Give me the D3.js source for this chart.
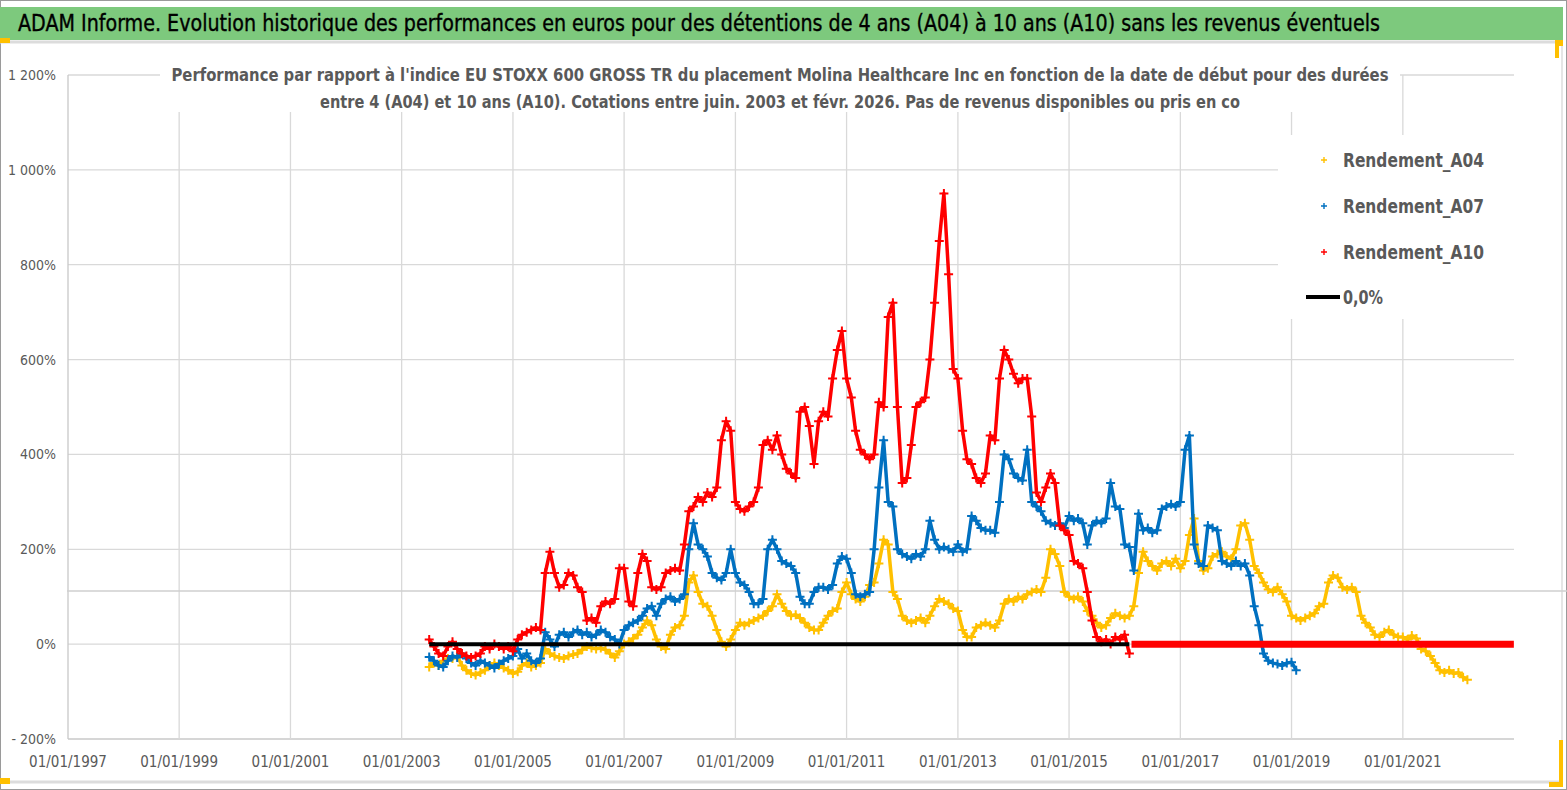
<!DOCTYPE html>
<html>
<head>
<meta charset="utf-8">
<script src="https://cdn.jsdelivr.net/npm/d3@7"></script>
<style>
  body { margin: 0; background: #fff; }
  svg { display: block; }
  text { font-family: "Liberation Sans Narrow", "DejaVu Sans Condensed", "Liberation Sans", sans-serif; }
</style>
</head>
<body>
<div id="chart"></div>
<script>
// Monthly readings (in %) of the relative performance, first value = start month
const A04_START= '2003-07-01';
const A04_VALUES= [
  -48,-40,-45,-35,-30,-30,
  -25,-45,-55,-62,-65,-60,-55,-45,-40,-45,-50,-55,
  -62,-58,-45,-40,-48,-45,-40,-10,-20,-25,-28,-30,
  -25,-22,-20,-12,-5,-8,-10,-8,-12,-20,-28,-15,
  0,5,12,20,35,50,40,10,-5,-10,20,35,
  40,60,130,145,110,85,80,60,30,5,-5,10,
  30,45,40,45,50,55,60,70,80,105,85,70,
  60,62,55,45,35,30,30,45,60,70,75,110,
  130,105,95,90,100,125,130,170,220,210,110,95,
  60,50,45,50,55,45,60,80,95,90,85,75,
  70,30,15,15,35,40,45,40,35,50,85,95,
  90,100,95,105,110,115,110,140,200,190,165,110,
  100,95,100,90,70,60,45,35,40,55,65,60,
  55,60,80,150,195,175,165,155,170,175,165,180,
  160,175,230,265,175,155,160,185,190,195,185,180,
  200,250,255,220,165,150,130,115,110,120,105,90,
  60,55,50,55,60,65,80,85,130,145,140,120,
  115,120,110,60,45,35,20,15,25,30,20,15,
  15,10,18,12,-10,-15,-25,-40,-55,-60,-55,-62,
  -60,-70,-75
];

const A07_START= '2003-07-01';
const A07_VALUES= [
  -27,-35,-45,-48,-35,-25,
  -28,-20,-30,-40,-45,-35,-40,-45,-50,-42,-35,-30,
  -25,-10,-30,-20,-35,-40,-30,25,10,-5,20,25,
  15,25,30,20,25,15,20,30,25,15,10,0,
  30,40,45,50,60,75,80,60,85,95,100,90,
  95,105,200,255,210,200,185,150,140,135,150,200,
  150,130,125,110,85,85,95,200,220,200,175,170,
  165,150,100,85,85,110,120,120,115,125,170,185,
  180,150,105,100,105,110,200,330,430,300,290,200,
  190,185,180,190,185,200,260,220,200,205,200,195,
  210,195,200,270,260,245,240,240,235,300,400,390,
  360,350,345,410,300,290,280,260,255,250,255,245,
  270,260,265,255,210,250,260,255,265,340,290,285,
  210,205,155,275,240,245,235,240,285,290,295,290,
  300,410,440,210,170,165,250,245,240,175,170,165,
  175,165,170,145,80,40,-20,-35,-40,-42,-45,-40,
  -38,-55
];

const A10_START= '2003-07-01';
const A10_VALUES= [
  10,-5,-20,-25,-5,5,
  -10,-20,-25,-28,-25,-20,-5,-10,0,-5,-10,-5,
  -15,10,20,25,30,35,30,150,195,150,120,125,
  150,145,120,110,50,55,45,80,90,85,95,160,
  160,90,80,150,190,175,120,115,120,150,155,160,
  155,210,280,290,310,300,320,310,330,430,470,450,
  300,285,280,290,300,330,420,430,410,440,400,370,
  360,350,490,500,460,380,470,490,480,560,620,660,
  560,520,450,410,400,390,400,510,500,690,720,500,
  340,350,420,500,510,520,600,720,850,950,780,580,
  560,450,390,380,350,340,360,440,430,560,620,600,
  570,550,560,560,480,320,300,330,360,340,250,240,
  230,175,170,160,110,50,15,5,10,0,15,10,
  20,-20
];
// A10 has no value after Feb. 2016: Excel plots those dates at 0
const A10_FLAT= ['2016-02-15', '2022-12-31'];
// Black reference line at 0,0 %
const ZERO_LINE= ['2003-07-01', '2016-02-01'];

const Y_TICKS= [-200, 0, 200, 400, 600, 800, 1000, 1200];
const Y_LABELS= ['- 200%', '0%', '200%', '400%', '600%', '800%', '1 000%', '1 200%'];
const X_TICK_YEARS= [1997, 1999, 2001, 2003, 2005, 2007, 2009, 2011, 2013, 2015, 2017, 2019, 2021];

const SERIES= [
  { name: 'Rendement_A04', color: '#ffc000', start: A04_START, values: A04_VALUES },
  { name: 'Rendement_A07', color: '#0070c0', start: A07_START, values: A07_VALUES },
  { name: 'Rendement_A10', color: '#ff0000', start: A10_START, values: A10_VALUES },
];

const TITLE= 'ADAM Informe. Evolution historique des performances en euros pour des détentions de 4 ans (A04) à 10 ans (A10) sans les revenus éventuels';
const SUB1= "Performance par rapport à l'indice EU STOXX 600 GROSS TR  du placement Molina Healthcare Inc en fonction de la date de début pour des durées";
const SUB2= 'entre 4 (A04) et 10 ans (A10). Cotations entre juin. 2003 et févr. 2026. Pas de revenus disponibles ou pris en co';

const W= 1567, H= 790;
const parse= d3.timeParse('%Y-%m-%d');

const svg= d3.select('#chart').append('svg')
  .attr('width', W).attr('height', H);

// frame
svg.append('rect').attr('x', 0.5).attr('y', 0.5).attr('width', W-1).attr('height', H-1)
  .attr('fill', '#fff').attr('stroke', '#9a9a9a');
svg.append('line').attr('x1', 0).attr('x2', 1562).attr('y1', 42).attr('y2', 42)
  .attr('stroke', '#dcdcdc').attr('stroke-width', 3);
svg.append('line').attr('x1', 1562).attr('x2', 1562).attr('y1', 44).attr('y2', 782)
  .attr('stroke', '#dcdcdc').attr('stroke-width', 1.5);
svg.append('line').attr('x1', 0).attr('x2', 1562).attr('y1', 782).attr('y2', 782)
  .attr('stroke', '#dcdcdc').attr('stroke-width', 3);

// title banner
svg.append('rect').attr('x', 0).attr('y', 7).attr('width', 1563).attr('height', 33)
  .attr('fill', '#7dc97d');
svg.append('text').attr('x', 18).attr('y', 31)
  .attr('font-size', 23).attr('fill', '#000')
  .attr('stroke', '#000').attr('stroke-width', 0.35)
  .attr('textLength', 1362).attr('lengthAdjust', 'spacingAndGlyphs')
  .text(TITLE);

// selection handles
[[0, 38, 10, 5], [1555, 40, 8, 6], [1555, 44, 4, 14], [1559, 740, 4, 46], [1549, 782, 14, 5], [0, 778, 10, 6]]
  .forEach(([x, y, w, h]) => svg.append('rect').attr('x', x).attr('y', y)
    .attr('width', w).attr('height', h).attr('fill', '#ffc000'));

const x= d3.scaleTime()
  .domain([parse('1997-01-01'), parse('2023-01-01')])
  .range([68, 1514]);
const y= d3.scaleLinear().domain([-200, 1200]).range([739, 75]);

const grid= svg.append('g');
grid.selectAll('line.h').data(Y_TICKS).join('line')
  .attr('class', 'h')
  .attr('x1', 68).attr('x2', 1514)
  .attr('y1', d => y(d)).attr('y2', d => y(d))
  .attr('stroke', d => d === -200 ? '#c8c8c8' : '#d9d9d9').attr('stroke-width', 1.3);
grid.selectAll('line.v').data(X_TICK_YEARS).join('line')
  .attr('class', 'v')
  .attr('x1', d => x(new Date(d, 0, 1))).attr('x2', d => x(new Date(d, 0, 1)))
  .attr('y1', y(1200)).attr('y2', y(-200))
  .attr('stroke', (d, i) => i === 0 ? '#c8c8c8' : '#d9d9d9').attr('stroke-width', 1.3);

// stray sheet border crossing the chart
svg.append('line').attr('x1', 67).attr('x2', 1567).attr('y1', 591).attr('y2', 591)
  .attr('stroke', '#cfcfcf').attr('stroke-width', 1.5);

// axis labels
svg.append('g').selectAll('text').data(Y_TICKS).join('text')
  .attr('x', 56).attr('y', d => y(d)+5)
  .attr('text-anchor', 'end')
  .attr('font-size', 14).attr('fill', '#595959')
  .text((d, i) => Y_LABELS[i]);

const fmt= d3.timeFormat('%d/%m/%Y');
svg.append('g').selectAll('text').data(X_TICK_YEARS).join('text')
  .attr('x', d => x(new Date(d, 0, 1))).attr('y', 767)
  .attr('text-anchor', 'middle')
  .attr('font-size', 15).attr('fill', '#595959')
  .text(d => fmt(new Date(d, 0, 1)));

// subtitle (white box hides the grid behind it)
svg.append('rect').attr('x', 160).attr('y', 58).attr('width', 1240).attr('height', 54)
  .attr('fill', '#fff');
svg.append('text').attr('x', 780).attr('y', 81)
  .attr('text-anchor', 'middle').attr('font-size', 18).attr('font-weight', 'bold').attr('fill', '#595959')
  .attr('textLength', 1217).attr('lengthAdjust', 'spacingAndGlyphs')
  .text(SUB1);
svg.append('text').attr('x', 780).attr('y', 108)
  .attr('text-anchor', 'middle').attr('font-size', 18).attr('font-weight', 'bold').attr('fill', '#595959')
  .attr('textLength', 920).attr('lengthAdjust', 'spacingAndGlyphs')
  .text(SUB2);

// series
const PLUS= 'M-4.5,0H4.5M0,-4.5V4.5';
const line= d3.line().x(d => x(d.date)).y(d => y(d.v));
const plot= svg.append('g');

SERIES.forEach(s => {
  const t0= parse(s.start);
  const pts= s.values.map((v, i) => ({ date: d3.timeMonth.offset(t0, i), v }));
  const g= plot.append('g');
  g.append('path').datum(pts)
    .attr('d', line)
    .attr('fill', 'none').attr('stroke', s.color).attr('stroke-width', 3.5)
    .attr('stroke-linejoin', 'round');
  g.selectAll('path.m').data(pts).join('path')
    .attr('class', 'm')
    .attr('transform', d => `translate(${x(d.date).toFixed(1)},${y(d.v).toFixed(1)})`)
    .attr('d', PLUS)
    .attr('stroke', s.color).attr('stroke-width', 2);
});

plot.append('path')
  .datum(A10_FLAT.map(d => ({ date: parse(d), v: 0 })))
  .attr('d', line)
  .attr('stroke', '#ff0000').attr('stroke-width', 7);

plot.append('path')
  .datum(ZERO_LINE.map(d => ({ date: parse(d), v: 0 })))
  .attr('d', line)
  .attr('stroke', '#000').attr('stroke-width', 4);

// legend
const lg= svg.append('g');
lg.append('rect').attr('x', 1278).attr('y', 135).attr('width', 240).attr('height', 184)
  .attr('fill', '#fff');
const LEG_Y= [160, 206, 252, 297];
SERIES.forEach((s, i) => {
  lg.append('path')
    .attr('transform', `translate(1324,${LEG_Y[i]})`)
    .attr('d', 'M-3,0H3M0,-3V3')
    .attr('stroke', s.color).attr('stroke-width', 1.4);
  lg.append('text').attr('x', 1343).attr('y', LEG_Y[i]+7)
    .attr('font-size', 20).attr('font-weight', 'bold').attr('fill', '#595959')
    .attr('textLength', 141).attr('lengthAdjust', 'spacingAndGlyphs')
    .text(s.name);
});
lg.append('line').attr('x1', 1306).attr('x2', 1340).attr('y1', LEG_Y[3]).attr('y2', LEG_Y[3])
  .attr('stroke', '#000').attr('stroke-width', 4);
lg.append('text').attr('x', 1343).attr('y', LEG_Y[3]+7)
  .attr('font-size', 20).attr('font-weight', 'bold').attr('fill', '#595959')
  .attr('textLength', 40).attr('lengthAdjust', 'spacingAndGlyphs')
  .text('0,0%');
</script>
</body>
</html>
